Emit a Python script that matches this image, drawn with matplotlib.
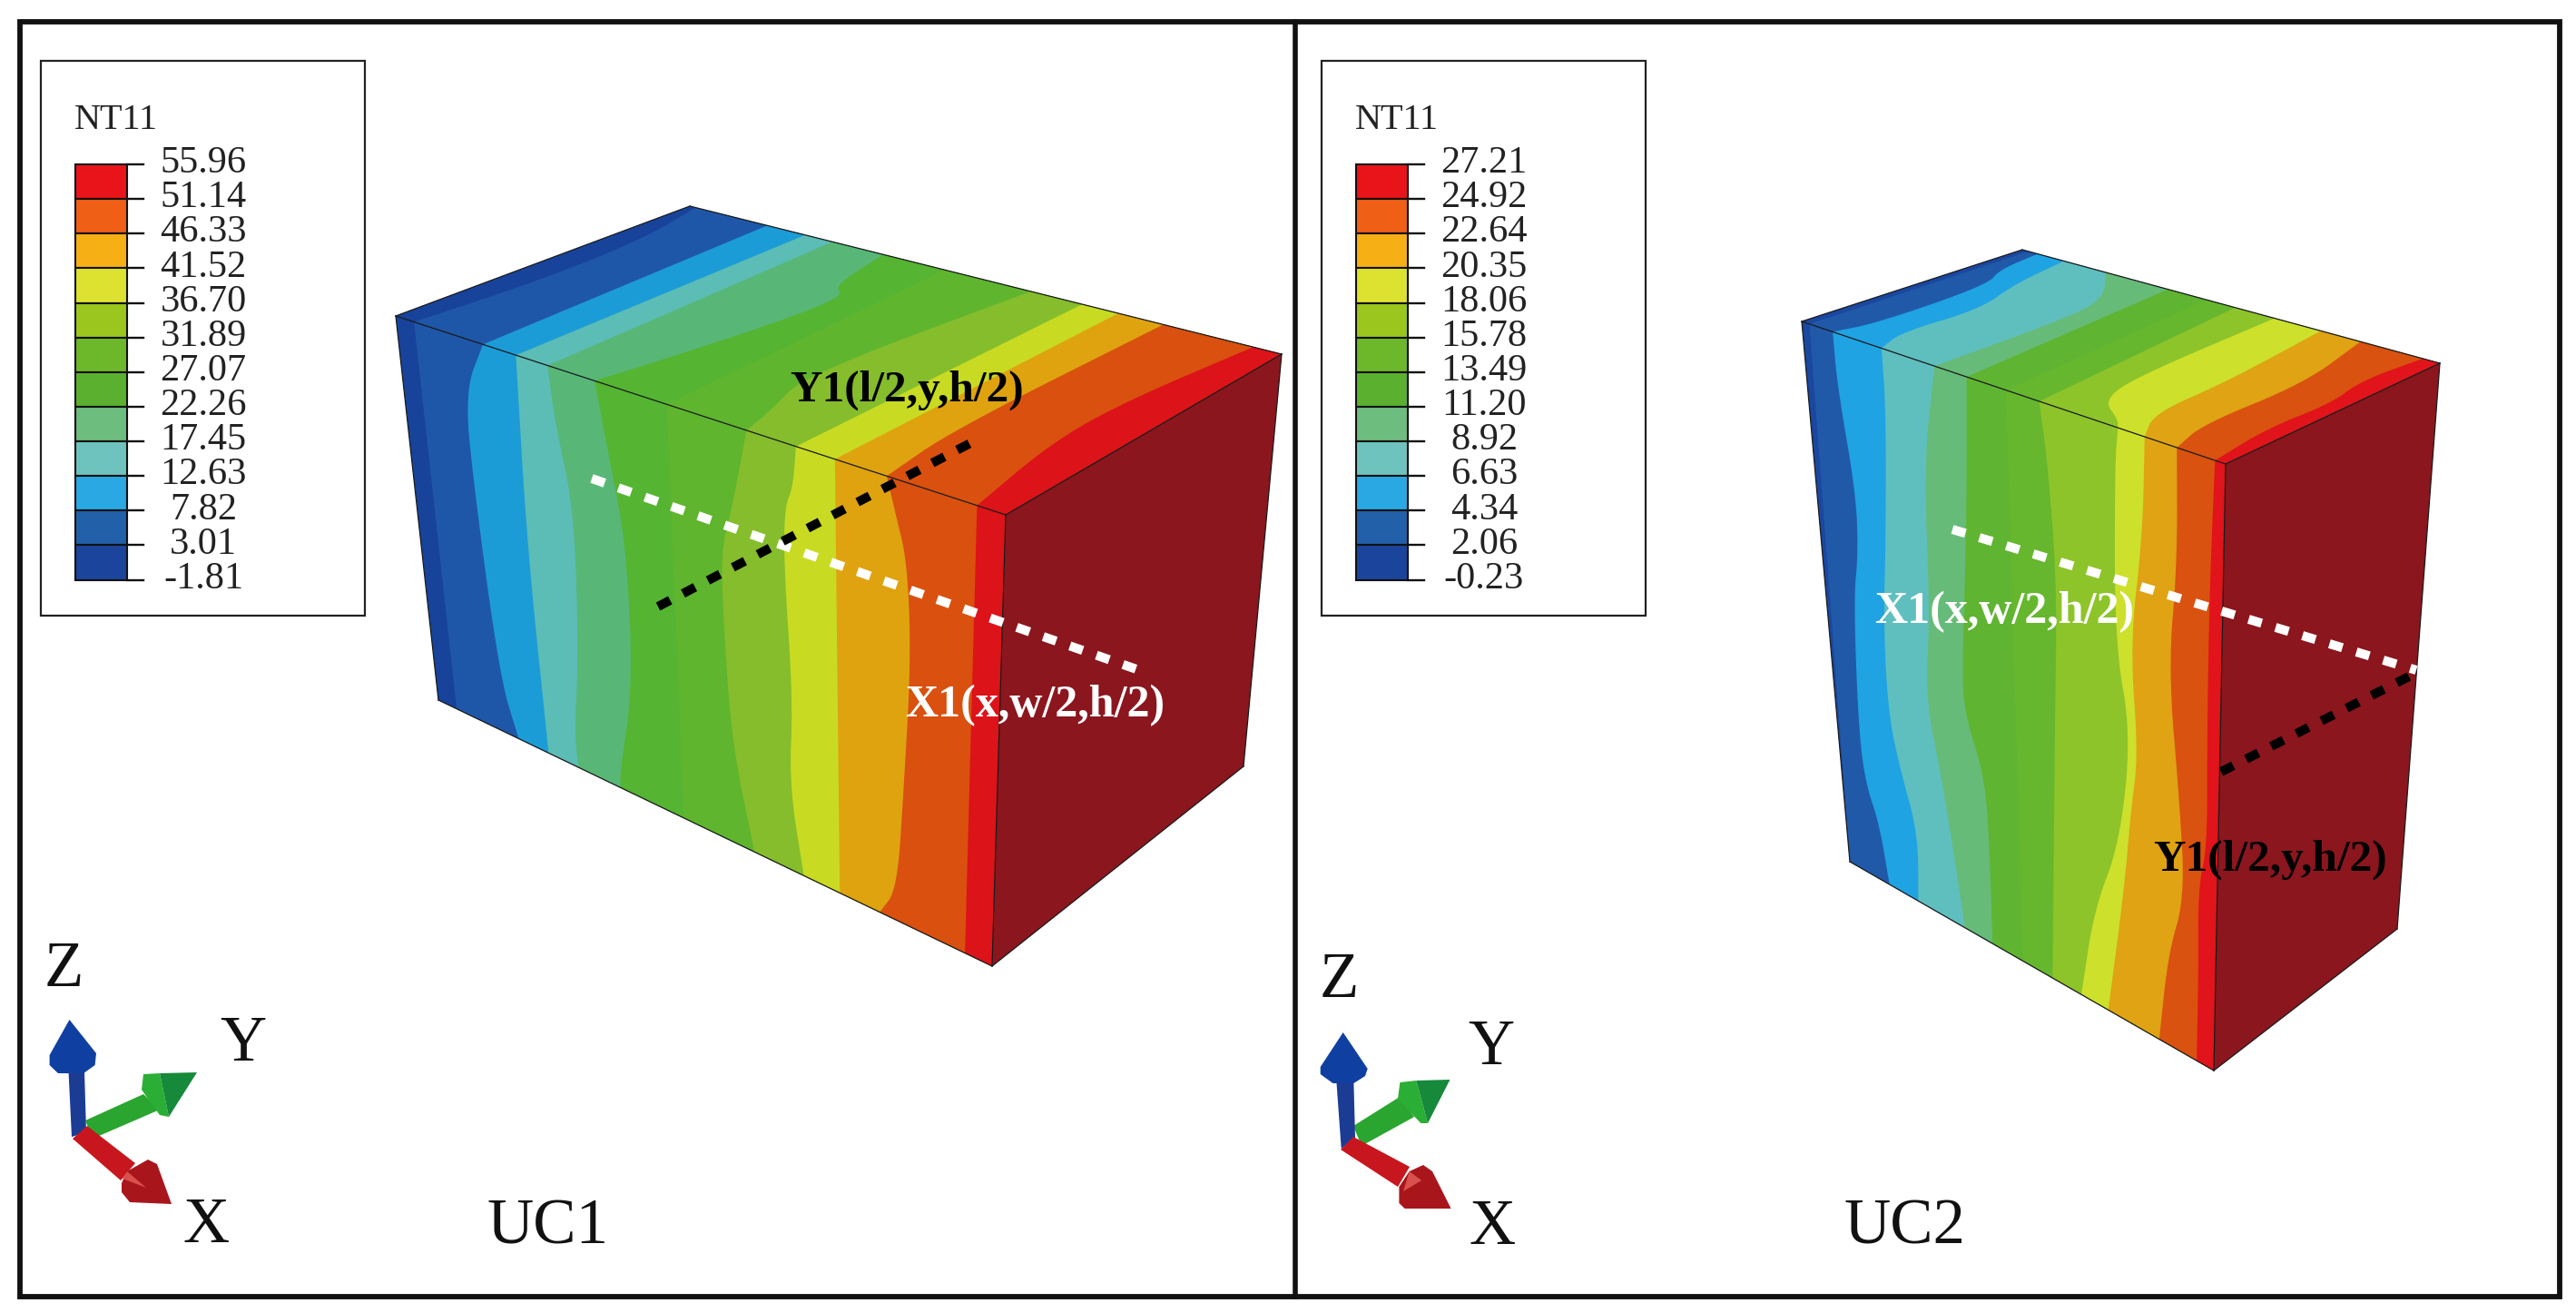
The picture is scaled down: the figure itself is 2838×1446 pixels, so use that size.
import matplotlib
matplotlib.use('Agg')

import matplotlib.pyplot as plt
import numpy as np

plt.rcParams['font.family'] = ['Liberation Serif', 'DejaVu Serif']

# Legend values
uc1_levels = ['55.96', '51.14', '46.33', '41.52', '36.70', '31.89', '27.07', '22.26', '17.45', '12.63', '7.82', '3.01', '-1.81']
uc2_levels = ['27.21', '24.92', '22.64', '20.35', '18.06', '15.78', '13.49', '11.20', '8.92', '6.63', '4.34', '2.06', '-0.23']
legend_colors = ['#e9141a', '#ef5f15', '#f6b016', '#dce22f', '#9ac61e', '#6db72a', '#5bb12f', '#6dbd7e', '#6fc3bf', '#2aa8e3', '#2260aa', '#1b459c']

# Band colours on the part, coldest first
uc1_bands = ['#17439b', '#1f57a8', '#1c9cd7', '#5bbdb5', '#58b777', '#55b432', '#5fb52e', '#85bd2c', '#c8db22', '#dfa310', '#d9500f', '#dc1318']
uc2_bands = ['#1a479f', '#2159a9', '#1fa3e2', '#5fbfbf', '#66bb78', '#5fb432', '#66b72e', '#8dc42a', '#cde02c', '#dfa314', '#d9520f', '#e0141a']
hot_face = '#8b161e'

# Box corners in picture pixels
uc1_box = {'A': (436, 348), 'B': (760, 227), 'C': (1412, 390), 'F': (1108, 567), 'G': (483, 771), 'H': (1093, 1064), 'I': (1370, 844)}
uc2_box = {'A': (1985, 354), 'B': (2228, 275), 'C': (2688, 400), 'F': (2452, 511), 'G': (2038, 949), 'H': (2439, 1179), 'I': (2641, 1023)}

# Isotherms on the front face: (height fraction, fraction along the length)
uc1_front = [
    [(0, .03), (1, .033)],
    [(0, .143), (.14, .105), (.38, .105), (.86, .12), (1, .145)],
    [(0, .197), (.48, .19), (1, .199)],
    [(0, .249), (.145, .255), (.34, .277), (.7, .268), (.92, .25), (1, .253)],
    [(0, .326), (.18, .343), (.385, .364), (.73, .362), (.96, .33), (1, .329)],
    [(0, .444), (1, .443)],
    [(0, .575), (.06, .567), (.21, .545), (.31, .527), (.47, .527), (.76, .535), (1, .571)],
    [(0, .656), (.10, .65), (.15, .636), (.29, .633), (.6, .645), (.8, .636), (1, .66)],
    [(0, .72), (1, .725)],
    [(0, .805), (.08, .82), (.18, .84), (.4, .848), (.69, .838), (.93, .828), (1, .797)],
    [(0, .953), (1, .951)],
]
uc2_front = [
    [(0, .018), (1, .0)],
    [(0, .073), (.10, .074), (.288, .099), (.40, .093), (.49, .072), (.726, .057), (.83, .063), (.893, .0925), (1, .109)],
    [(0, .188), (.11, .189), (.348, .167), (.516, .145), (.677, .141), (.769, .162), (.874, .2), (1, .188)],
    [(0, .313), (.187, .274), (.456, .268), (.612, .243), (.749, .274), (.869, .295), (1, .316)],
    [(0, .389), (.277, .372), (.53, .344), (.61, .345), (.709, .392), (.853, .395), (1, .392)],
    [(0, .482), (1, .475)],
    [(0, .56), (.104, .577), (.31, .593), (.55, .58), (1, .557)],
    [(0, .746), (.064, .738), (.37, .735), (.51, .775), (.706, .744), (.84, .675), (1, .636)],
    [(0, .809), (.168, .804), (.36, .773), (.54, .793), (.64, .774), (.776, .756), (1, .71)],
    [(0, .885), (.198, .888), (.373, .868), (.592, .90), (.743, .915), (.849, .873), (1, .85)],
    [(0, .975), (.22, .967), (.46, .967), (.64, .972), (.713, .95), (.85, .954), (1, .953)],
]

# Isotherms on the top face: (depth fraction, fraction along the length)
uc1_top = [
    [(0, .03), (.4, .045), (.76, .04), (1, .01)],
    [(0, .143), (1, .131)],
    [(0, .197), (1, .195)],
    [(0, .249), (1, .241)],
    [(0, .326), (.25, .35), (.53, .375), (.745, .385), (.78, .35), (1, .327)],
    [(0, .444), (1, .43)],
    [(0, .575), (.13, .557), (.32, .52), (1, .576)],
    [(0, .656), (1, .663)],
    [(0, .72), (1, .724)],
    [(0, .805), (.28, .785), (1, .80)],
    [(0, .953), (.35, .915), (.61, .915), (1, .952)],
]
uc2_top = [
    [(0, .018), (1, .015)],
    [(0, .073), (.17, .095), (.67, .091), (.80, .05), (1, .037)],
    [(0, .188), (.15, .157), (.48, .172), (.73, .124), (1, .10)],
    [(0, .313), (.554, .316), (.797, .30), (1, .2)],
    [(0, .389), (1, .349)],
    [(0, .482), (1, .44)],
    [(0, .56), (1, .51)],
    [(0, .746), (.05, .72), (.142, .64), (.35, .61), (1, .604)],
    [(0, .809), (.158, .75), (.5, .749), (1, .715)],
    [(0, .885), (.19, .85), (.63, .864), (1, .81)],
    [(0, .975), (.287, .952), (.563, .966), (.747, .939), (1, .959)],
]

# Dotted paths
uc1_x_path = [(652, 527), (1252, 737)]
uc1_y_path = [(725, 668), (1071, 487)]
uc2_x_path = [(2151, 583), (2662, 738)]
uc2_y_path = [(2447, 850), (2660, 742)]

# Triad outlines
uc1_z_shaft = [(75.5, 1180), (93, 1180), (95, 1247), (79, 1252)]
uc1_z_head = [(76.5, 1123), (106, 1160), (104.6, 1173), (92, 1182), (64, 1182), (54.6, 1173), (54.6, 1162)]
uc1_y_shaft = [(94, 1234), (158, 1205), (176, 1222), (102, 1254)]
uc1_y_light = [(158, 1183), (176, 1182), (186, 1230), (176, 1228), (168, 1217), (156, 1200)]
uc1_y_dark = [(176, 1182), (217, 1181), (186, 1230)]
uc1_x_shaft = [(80, 1254), (96, 1240), (149, 1281), (133, 1300)]
uc1_x_head = [(163, 1277), (173, 1282), (189, 1326), (143, 1324), (134, 1313), (134, 1303), (140, 1290)]
uc1_x_glint = [(140, 1290), (161, 1308), (135, 1298)]

uc2_z_shaft = [(1472.5, 1193), (1491.4, 1193), (1493, 1253), (1477.7, 1265)]
uc2_z_head = [(1479.7, 1137), (1506.7, 1177), (1504, 1185), (1491.4, 1193), (1468.5, 1193), (1454.7, 1183), (1454.7, 1175)]
uc2_y_shaft = [(1491, 1240), (1542, 1208), (1558, 1230), (1500, 1262)]
uc2_y_light = [(1542.4, 1192), (1560.3, 1190), (1573, 1237), (1565.4, 1237), (1556.7, 1228), (1540, 1210)]
uc2_y_dark = [(1560.3, 1190), (1597.5, 1189), (1573, 1237)]
uc2_x_shaft = [(1477, 1266), (1491, 1252), (1553, 1285), (1540, 1307)]
uc2_x_head = [(1568, 1283), (1578, 1290), (1598.6, 1331), (1547.6, 1331), (1541.4, 1325), (1541.4, 1307), (1552.7, 1290)]
uc2_x_glint = [(1552.7, 1290), (1566, 1300), (1546, 1312)]


def face_xy(corners, along, down):
    tl, tr, br, bl = [np.array(c, dtype=float) for c in corners]
    along = np.asarray(along)[:, None]
    down = np.asarray(down)[:, None]
    upper = tl * (1 - along) + tr * along
    lower = bl * (1 - along) + br * along
    return upper * (1 - down) + lower * down


def soften(xy, passes=3):
    # corner cutting, the contours in the picture have no hard kinks
    for _ in range(passes):
        q = 0.75 * xy[:-1] + 0.25 * xy[1:]
        r = 0.25 * xy[:-1] + 0.75 * xy[1:]
        mid = np.empty((2 * len(q), 2))
        mid[0::2] = q
        mid[1::2] = r
        xy = np.vstack([xy[0], mid, xy[-1]])
    return xy


def draw_face(ax, corners, isotherms, colors):
    ax.fill(*zip(*corners), color=colors[0], lw=0, zorder=2)
    for curve, color in zip(isotherms, colors[1:]):
        d = [p[0] for p in curve]
        a = [p[1] for p in curve]
        # painted left to right, each band runs on to the hot end
        poly = np.vstack([soften(face_xy(corners, a, d)), face_xy(corners, [1, 1], [1, 0])])
        ax.fill(poly[:, 0], poly[:, 1], color=color, lw=0, zorder=2)


def draw_box(ax, box, front, top, colors):
    draw_face(ax, [box['A'], box['F'], box['H'], box['G']], front, colors)
    draw_face(ax, [box['A'], box['F'], box['C'], box['B']], top, colors)
    right = [box['F'], box['C'], box['I'], box['H']]
    ax.fill(*zip(*right), color=hot_face, lw=0, zorder=2)
    for a, b in ['AF', 'FH', 'FC', 'AB', 'BC', 'AG', 'GH', 'HI', 'IC']:
        ax.plot(*zip(box[a], box[b]), color='#1a1a1a', lw=0.9, zorder=3)


def draw_legend(ax, x0, labels):
    ax.add_patch(plt.Rectangle((x0 + 45, 67), 357, 611, fc='white', ec='#222222', lw=1.6, zorder=1))
    ax.text(x0 + 82, 133, 'NT11', fontsize=29, ha='left', va='center', color='#222222')
    edges = np.linspace(181, 638.5, 13)
    for i, color in enumerate(legend_colors):
        ax.bar(x0 + 111, edges[i + 1] - edges[i], width=57, bottom=edges[i], color=color, edgecolor='#111111', lw=1.5, zorder=2)
    for y, label in zip(edges, labels):
        ax.plot([x0 + 140, x0 + 158], [y, y], color='#111111', lw=1.7, zorder=2)
        ax.text(x0 + 224, y - 1, label, fontsize=30.5, ha='center', va='center', color='#222222')


def draw_path(ax, path, color):
    ax.plot(*zip(*path), color=color, lw=7.2, dashes=(1.5, 1.6), dash_capstyle='butt', zorder=4)


def shape(ax, outline, color, z=4):
    ax.fill(*zip(*outline), color=color, lw=0, zorder=z)


fig = plt.figure(figsize=(28.38, 14.46), dpi=100)
ax = fig.add_axes([0, 0, 1, 1])
ax.set_xlim(0, 2838)
ax.set_ylim(1446, 0)
ax.axis('off')

# Outer frame and divider
ax.add_patch(plt.Rectangle((21.5, 24), 2798, 1404, fc='none', ec='#111111', lw=4.2, zorder=5))
ax.plot([1426.5, 1426.5], [24, 1428], color='#111111', lw=4.0, zorder=5)

draw_legend(ax, 0, uc1_levels)
draw_legend(ax, 1411, uc2_levels)

draw_box(ax, uc1_box, uc1_front, uc1_top, uc1_bands)
draw_box(ax, uc2_box, uc2_front, uc2_top, uc2_bands)

draw_path(ax, uc1_x_path, 'white')
draw_path(ax, uc1_y_path, 'black')
draw_path(ax, uc2_x_path, 'white')
draw_path(ax, uc2_y_path, 'black')

ax.text(999, 430, 'Y1(l/2,y,h/2)', fontsize=35.5, fontweight='bold', color='black', ha='center', va='center', zorder=6)
ax.text(1140, 777, 'X1(x,w/2,h/2)', fontsize=36, fontweight='bold', color='white', ha='center', va='center', zorder=6)
ax.text(2208, 674, 'X1(x,w/2,h/2)', fontsize=36, fontweight='bold', color='white', ha='center', va='center', zorder=6)
ax.text(2501, 947, 'Y1(l/2,y,h/2)', fontsize=35.5, fontweight='bold', color='black', ha='center', va='center', zorder=6)

# Coordinate triads
for y_shaft, y_light, y_dark, z_shaft, z_head, x_shaft, x_head, x_glint in [
        (uc1_y_shaft, uc1_y_light, uc1_y_dark, uc1_z_shaft, uc1_z_head, uc1_x_shaft, uc1_x_head, uc1_x_glint),
        (uc2_y_shaft, uc2_y_light, uc2_y_dark, uc2_z_shaft, uc2_z_head, uc2_x_shaft, uc2_x_head, uc2_x_glint)]:
    shape(ax, y_shaft, '#2aa52f')
    shape(ax, y_light, '#2aae35')
    shape(ax, y_dark, '#16893a')
    shape(ax, z_shaft, '#1c3c94', 5)
    shape(ax, z_head, '#0f3fa0', 5)
    shape(ax, x_shaft, '#c8161e', 6)
    shape(ax, x_head, '#a8161c', 6)
    shape(ax, x_glint, '#d9504c', 7)

for x, y, s in [(70, 1068, 'Z'), (268, 1150, 'Y'), (227, 1350, 'X'), (603, 1352, 'UC1'),
                (1475, 1080, 'Z'), (1643, 1155, 'Y'), (1644, 1352, 'X'), (2098, 1352, 'UC2')]:
    ax.text(x, y, s, fontsize=51, ha='center', va='center', color='#111111', zorder=6)

fig.savefig('out.png', dpi=100)
